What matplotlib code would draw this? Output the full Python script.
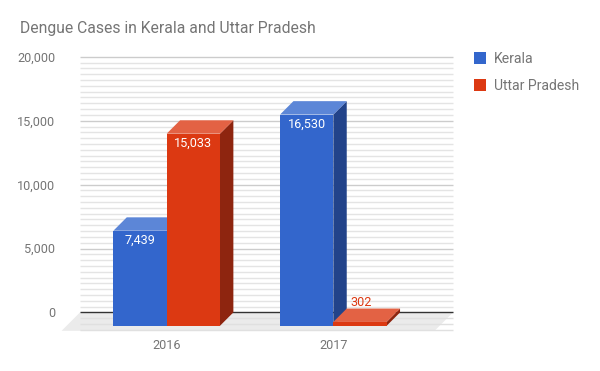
import matplotlib.pyplot as plt
from matplotlib.patches import Polygon, Rectangle

years = ['2016', '2017']
series = ['Kerala', 'Uttar Pradesh']
kerala = [7439, 16530]
uttar = [15033, 302]
values = [kerala, uttar]
front_colors = ['#3366cc', '#dc3912']
top_colors = ['#5c86d7', '#e36244']
side_colors = ['#22438a', '#8e250f']
yticks = [0, 5000, 10000, 15000, 20000]
ytick_labels = ['0', '5,000', '10,000', '15,000', '20,000']

W, H = 600, 371
fig = plt.figure(figsize=(W / 100, H / 100), dpi=100)
ax = fig.add_axes([0, 0, 1, 1])
ax.axis('off')

# front plane: one category = 166.67 px, zero at py 325.8, 20000 = 255.6 px
GROUP = 166.67
X0 = 166.67
ZERO = 325.8
PPV = 255.6 / 20000
ax.set_xlim(-X0 / GROUP, (W - X0) / GROUP)
ax.set_ylim(-(H - ZERO) / PPV, ZERO / PPV)

DX, DY = 13.4 / GROUP, 13.4 / PPV          # bar depth
FX, FY = 18.4 / GROUP, 18.4 / PPV          # floor depth
wall_l, wall_r = (80 - X0) / GROUP, (453 - X0) / GROUP
bw = 53.3 / GROUP

font = 'Roboto'
grey = '#757575'
small = 9.1

# floor
ax.add_patch(Polygon([(wall_l, DY), (wall_r, DY), (wall_r - FX, DY - FY),
                      (wall_l - FX, DY - FY)], closed=True,
                     facecolor='#ebebeb', edgecolor='none', zorder=1))

# gridlines on the back wall
minor = 5000 / 11
for k in range(-3, 45):
    v = k * minor
    if k % 11 == 0 and k >= 0:
        col = '#333333' if k == 0 else '#cccccc'
    else:
        col = '#e4e4e4' if k > 0 else '#e0e0e0'
    ax.plot([wall_l, wall_r], [v + DY, v + DY], color=col, lw=1,
            zorder=3 if k == 0 else 2, solid_capstyle='butt')

for t, lab in zip(yticks, ytick_labels):
    ax.annotate(lab, (wall_l, t + DY), xytext=(-25, -4.7),
                textcoords='offset pixels', ha='right', va='baseline',
                fontsize=small, color=grey, family=font)

# bars
z = 5
for i, year in enumerate(years):
    for j in range(len(series)):
        v = values[j][i]
        xl = i + (j - 1) * bw
        xr = xl + bw
        ax.add_patch(Polygon([(xr, 0), (xr, v), (xr + DX, v + DY), (xr + DX, DY)],
                             closed=True, facecolor=side_colors[j],
                             edgecolor='none', zorder=z))
        ax.add_patch(Polygon([(xl, v), (xr, v), (xr + DX, v + DY), (xl + DX, v + DY)],
                             closed=True, facecolor=top_colors[j],
                             edgecolor='none', zorder=z))
        ax.add_patch(Rectangle((xl, 0), bw, v, facecolor=front_colors[j],
                               edgecolor='none', zorder=z))
        z += 1
        lab = f'{v:,}'
        if v * PPV > 20:
            ax.annotate(lab, ((xl + xr) / 2, v), xytext=(0, -9.5),
                        textcoords='offset pixels', ha='center', va='center',
                        fontsize=small, color='white', family=font, zorder=20)
        else:
            ax.annotate(lab, ((xl + xr) / 2, v + DY), xytext=(1.5, 6),
                        textcoords='offset pixels', ha='center', va='center',
                        fontsize=small, color=front_colors[j], family=font, zorder=20)
    ax.annotate(year, (i, 0), xytext=(0, -23.3), textcoords='offset pixels',
                ha='center', va='baseline', fontsize=small, color=grey, family=font)

# title
fig.text(20 / W, 1 - 33.5 / H, 'Dengue Cases in Kerala and Uttar Pradesh',
         ha='left', va='baseline', fontsize=11.35, color=grey, family=font)

# legend
for j, name in enumerate(series):
    y = 52.3 + j * 27
    fig.add_artist(Rectangle((474.3 / W, 1 - (y + 12) / H), 12 / W, 12 / H,
                             transform=fig.transFigure, facecolor=front_colors[j],
                             edgecolor='none'))
    fig.text(494.3 / W, 1 - (y + 10.6) / H, name, ha='left', va='baseline',
             fontsize=10.1, color=grey, family=font)

fig.savefig('out.png', dpi=100, facecolor='white')
